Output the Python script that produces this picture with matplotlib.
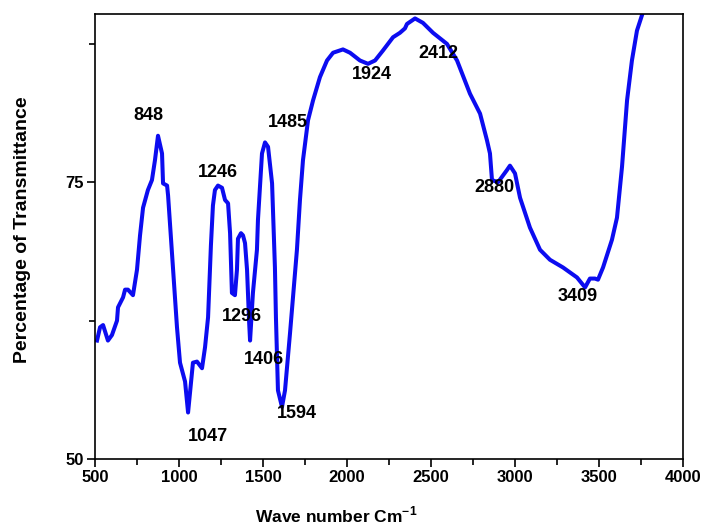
import matplotlib
matplotlib.use("Agg")
import matplotlib.pyplot as plt
from matplotlib.ticker import MultipleLocator, FixedLocator

plt.rcParams['font.family'] = ['Liberation Sans', 'DejaVu Sans']
plt.rcParams['mathtext.fontset'] = 'custom'
plt.rcParams['mathtext.rm'] = 'Liberation Sans'
plt.rcParams['mathtext.bf'] = 'Liberation Sans:bold'

wavenumber = [512, 530, 548, 577, 601, 631, 637, 667, 679, 696, 726, 750, 768, 786, 815, 839, 857, 875,
              899, 905, 929, 935, 964, 988, 1006, 1036, 1054, 1083, 1107, 1137, 1155, 1173, 1190, 1202,
              1214, 1232, 1256, 1274, 1292, 1304, 1315, 1333, 1345, 1351, 1369, 1381, 1393, 1405, 1417,
              1423, 1440, 1464, 1470, 1494, 1512, 1530, 1554, 1571, 1577, 1589, 1613, 1631, 1661, 1702,
              1720, 1738, 1768, 1798, 1839, 1881, 1917, 1976, 2018, 2077, 2125, 2167, 2214, 2274, 2315,
              2345, 2357, 2405, 2452, 2512, 2595, 2655, 2732, 2792, 2833, 2851, 2863, 2899, 2952, 2970,
              3000, 3030, 3089, 3149, 3208, 3286, 3369, 3417, 3446, 3476, 3494, 3524, 3577, 3607, 3637,
              3667, 3696, 3726, 3756]
transmittance = [60.7, 61.9, 62.1, 60.7, 61.2, 62.5, 63.7, 64.6, 65.3, 65.3, 64.8, 67.1, 70.2, 72.7,
                 74.3, 75.2, 77.0, 79.2, 77.6, 74.9, 74.7, 73.8, 67.3, 61.9, 58.7, 57.0, 54.2, 58.7,
                 58.8, 58.2, 60.1, 62.8, 69.3, 72.9, 74.3, 74.7, 74.5, 73.4, 73.1, 70.4, 65.0, 64.8,
                 67.1, 69.9, 70.4, 70.2, 69.5, 67.1, 62.5, 60.7, 65.0, 68.9, 71.6, 77.6, 78.6, 78.2,
                 74.9, 67.3, 62.8, 56.2, 54.7, 56.2, 61.4, 68.9, 73.4, 77.0, 80.6, 82.4, 84.5, 86.0,
                 86.7, 87.0, 86.7, 86.0, 85.7, 86.0, 86.9, 88.1, 88.5, 88.9, 89.3, 89.8, 89.4, 88.5,
                 87.5, 86.0, 83.0, 81.2, 78.8, 77.6, 75.2, 75.0, 76.1, 76.5, 75.8, 73.6, 70.9, 68.9,
                 68.0, 67.3, 66.4, 65.5, 66.3, 66.3, 66.2, 67.3, 69.8, 71.8, 76.4, 82.4, 86.0, 88.7,
                 90.1]

peak_labels = ['848', '1246', '1485', '1296', '1406', '1047', '1594', '1924', '2412', '2880', '3409']
peak_label_x = [815, 1232, 1649, 1375, 1506, 1173, 1702, 2149, 2542, 2875, 3375]
peak_label_y = [81.0, 75.9, 80.4, 62.9, 59.0, 52.0, 54.1, 84.7, 86.6, 74.5, 64.7]

x_ticks = [500, 1000, 1500, 2000, 2500, 3000, 3500, 4000]
y_ticks = [50, 75]
y_minor = [62.5, 87.5]

fig = plt.figure(figsize=(7.02, 5.25), dpi=100)
ax = fig.add_axes([95/702, 1-459/525, (683-95)/702, (459-14)/525])

ax.plot(wavenumber, transmittance, color='#0c0cf0', lw=2.9, solid_joinstyle='round')

for t, x, y in zip(peak_labels, peak_label_x, peak_label_y):
    ax.text(x, y, t, ha='center', va='center', fontsize=13, fontweight='bold', color='black')

ax.set_xlim(500, 4000)
ax.set_ylim(50, 90.2)
ax.set_xticks(x_ticks)
ax.xaxis.set_minor_locator(MultipleLocator(250))
ax.set_yticks(y_ticks)
ax.yaxis.set_minor_locator(FixedLocator(y_minor))
ax.tick_params(which='major', direction='out', length=6, width=1.2, labelsize=12, pad=2)
ax.tick_params(which='minor', direction='out', length=4, width=1.2)
for lab in ax.get_xticklabels() + ax.get_yticklabels():
    lab.set_fontweight('bold')
for s in ax.spines.values():
    s.set_linewidth(1.2)

fig.text(23/702, 1-230/525, 'Percentage of Transmittance', rotation=90, ha='center', va='center',
         fontsize=14, fontweight='bold')
fig.text(336/702, 1-515/525, r'Wave number Cm$^{\mathbf{-1}}$', ha='center', va='center',
         fontsize=12.5, fontweight='bold')

fig.savefig('out.png', dpi=100)
